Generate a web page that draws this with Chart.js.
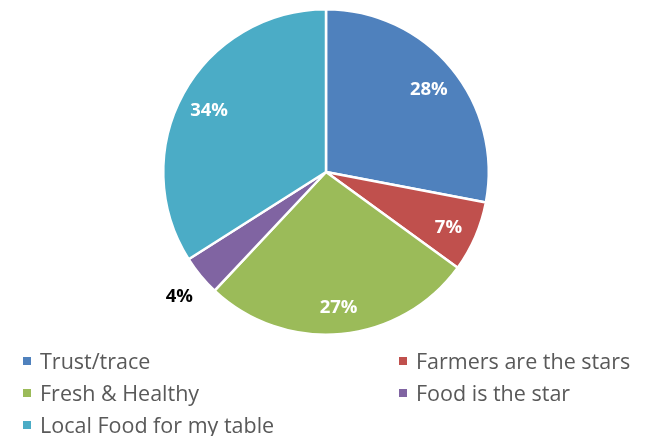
<!DOCTYPE html>
<html>
<head>
<meta charset="utf-8">
<script src="https://cdn.jsdelivr.net/npm/chart.js@4.4.1/dist/chart.umd.min.js"></script>
<style>
  html, body { margin: 0; padding: 0; background: #fff; }
  #wrap { position: relative; width: 652px; height: 436px; }
  #pie { position: absolute; left: 0; top: 0; }
  .key { position: absolute; font-family: "Open Sans", sans-serif; font-size: 21.5px; color: #595959; white-space: nowrap; line-height: 22px; }
  .key span { position: absolute; width: 8px; height: 8px; }
</style>
</head>
<body>
<div id="wrap">
  <canvas id="pie" width="652" height="436"></canvas>
</div>
<script>
var categories = ["Trust/trace", "Farmers are the stars", "Fresh & Healthy", "Food is the star", "Local Food for my table"];
var shares = [28, 7, 27, 4, 34];
var sliceColors = ["#4F81BD", "#C0504D", "#9BBB59", "#8064A2", "#4BACC6"];

// percentage labels: white inside the slice, dark outside for thin slices
var sliceLabels = {
  id: 'sliceLabels',
  afterDatasetsDraw: function(chart) {
    var ctx = chart.ctx;
    var arcs = chart.getDatasetMeta(0).data;
    ctx.save();
    ctx.font = "bold 18.5px 'Open Sans', sans-serif";
    ctx.textAlign = "center";
    ctx.textBaseline = "middle";
    arcs.forEach(function(arc, i) {
      var mid = (arc.startAngle + arc.endAngle) / 2;
      var outside = shares[i] < 5;
      var r = arc.outerRadius * (outside ? 1.17 : 0.82);
      ctx.fillStyle = outside ? "#000" : "#fff";
      ctx.fillText(shares[i] + "%", arc.x + Math.cos(mid) * r, arc.y + Math.sin(mid) * r + 3);
    });
    ctx.restore();
  }
};

var chart = new Chart(document.getElementById("pie"), {
  type: 'pie',
  data: {
    labels: categories,
    datasets: [{
      data: shares,
      backgroundColor: sliceColors,
      borderColor: "#fff",
      borderWidth: 2.5
    }]
  },
  options: {
    responsive: false,
    animation: false,
    layout: { padding: { top: 8, bottom: 100, left: 0, right: 0 } },
    plugins: {
      legend: { display: false },
      tooltip: { enabled: false }
    }
  },
  plugins: [sliceLabels]
});

// two-column legend under the pie
var keySpots = [[23, 361], [399, 361], [23, 393], [399, 393], [23, 425]];
var wrap = document.getElementById("wrap");
categories.forEach(function(name, i) {
  var item = document.createElement("div");
  item.className = "key";
  item.style.left = keySpots[i][0] + "px";
  item.style.top = (keySpots[i][1] - 11) + "px";
  var sw = document.createElement("span");
  sw.style.background = sliceColors[i];
  sw.style.left = "0px";
  sw.style.top = "7px";
  item.appendChild(sw);
  var txt = document.createElement("div");
  txt.style.marginLeft = "17px";
  txt.textContent = name;
  item.appendChild(txt);
  wrap.appendChild(item);
});
</script>
</body>
</html>
